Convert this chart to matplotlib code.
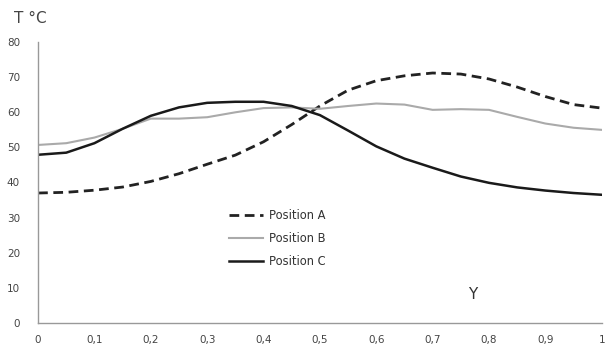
import matplotlib.pyplot as plt
import numpy as np

x = [0, 0.05, 0.1, 0.15, 0.2, 0.25, 0.3, 0.35, 0.4, 0.45, 0.5,
     0.55, 0.6, 0.65, 0.7, 0.75, 0.8, 0.85, 0.9, 0.95, 1.0]
pos_a = [37.0, 37.2, 37.8, 38.7, 40.3, 42.5, 45.2, 47.8, 51.6, 56.5, 61.8,
         66.3, 69.0, 70.4, 71.2, 70.9, 69.5, 67.2, 64.5, 62.2, 61.2]
pos_b = [50.7, 51.2, 52.8, 55.3, 58.2, 58.2, 58.6, 60.0, 61.2, 61.4, 61.0,
         61.8, 62.5, 62.2, 60.7, 60.9, 60.7, 58.7, 56.8, 55.6, 55.0]
pos_c = [47.9, 48.5, 51.2, 55.3, 59.0, 61.4, 62.7, 63.0, 63.0, 61.8, 59.2,
         54.8, 50.3, 46.8, 44.2, 41.7, 39.9, 38.6, 37.7, 37.0, 36.5]

xticks = np.round(np.arange(0, 1.01, 0.1), 1)
xlabels = [('%g' % t).replace('.', ',') for t in xticks]
yticks = range(0, 81, 10)

fig = plt.figure(figsize=(6.14, 3.54), dpi=100)
ax = fig.add_axes([0.062, 0.088, 0.918, 0.793])

ax.plot(x, pos_a, color='#222222', lw=2, ls=(0, (3.5, 2)), label='Position A')
ax.plot(x, pos_b, color='#aaaaaa', lw=1.5, label='Position B')
ax.plot(x, pos_c, color='#1a1a1a', lw=1.8, label='Position C')

ax.set_xlim(0, 1)
ax.set_ylim(0, 80)
ax.set_xticks(xticks)
ax.set_xticklabels(xlabels)
ax.set_yticks(yticks)
ax.tick_params(length=0, labelsize=7.5, colors='#444444')
ax.tick_params(axis='y', pad=13)
ax.tick_params(axis='x', pad=9)

for s in ['top', 'right']:
    ax.spines[s].set_visible(False)
for s in ['left', 'bottom']:
    ax.spines[s].set_color('#999999')
    ax.spines[s].set_linewidth(1)

leg = ax.legend(loc='upper left', bbox_to_anchor=(0.32, 0.442), frameon=False,
                fontsize=8.3, handlelength=3.0, handletextpad=0.5,
                labelspacing=0.85)
for t in leg.get_texts():
    t.set_color('#333333')

fig.text(0.022, 0.935, 'T °C', fontsize=11, color='#444444')
ax.text(0.762, 8, 'Y', fontsize=11, color='#333333', va='center')

fig.savefig('out.png', dpi=100)
